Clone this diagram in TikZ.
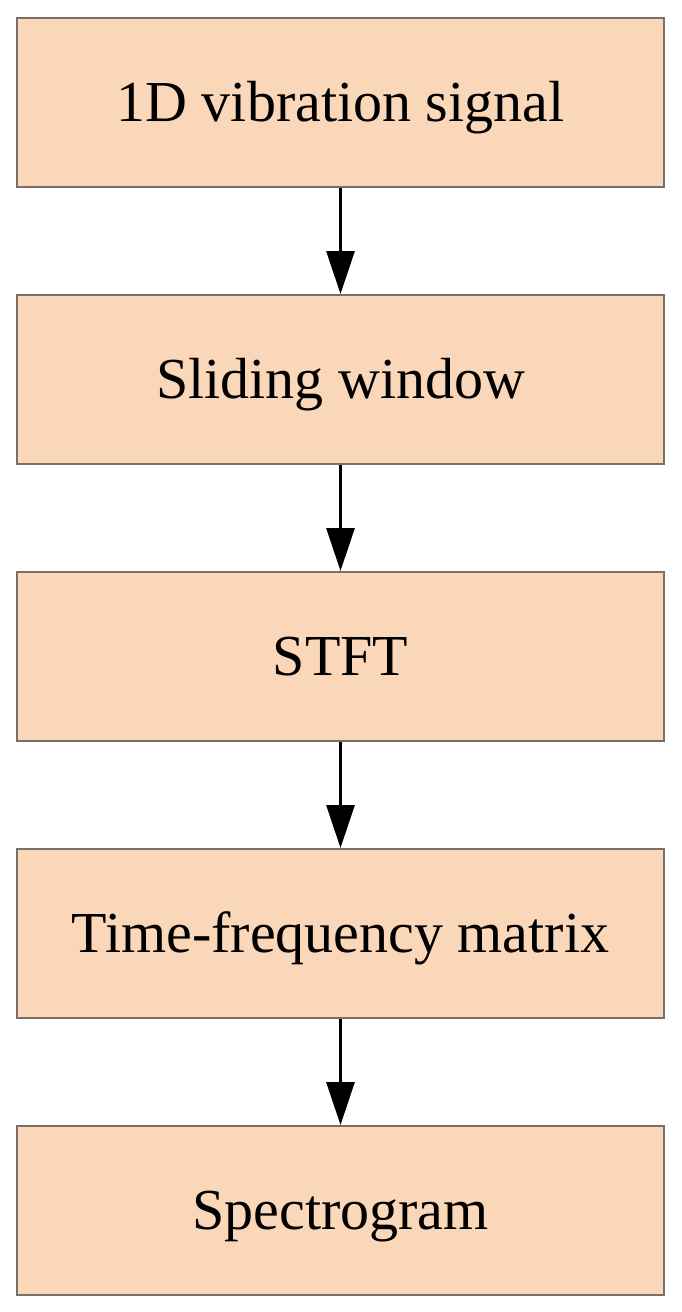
\documentclass[tikz,border=0pt]{standalone}
\usepackage{fontspec}
\setmainfont{Liberation Serif}
\usetikzlibrary{arrows.meta}
\definecolor{boxfill}{HTML}{FAD7B9}
\definecolor{boxline}{HTML}{7A6E68}
\tikzset{
  stagebox/.style={draw=boxline, line width=2pt, fill=boxfill, minimum width=647pt, minimum height=169pt, inner sep=0pt, text height=40pt, text depth=2pt, font=\fontsize{58}{66}\selectfont},
  flowarrow/.style={line width=3pt, -{Triangle[width=28pt,length=43pt]}}
}
\begin{document}
\begin{tikzpicture}[x=1pt,y=-1pt]
\useasboundingbox (0,0) rectangle (682,1312);
\node[stagebox] (b1) at (340.5,102.5) {1D vibration signal};
\node[stagebox] (b2) at (340.5,379.5) {Sliding window};
\node[stagebox] (b3) at (340.5,656.5) {STFT};
\node[stagebox] (b4) at (340.5,933.5) {Time-frequency matrix};
\node[stagebox] (b5) at (340.5,1210.5) {Spectrogram};
\draw[flowarrow] (b1.south) -- (b2.north);
\draw[flowarrow] (b2.south) -- (b3.north);
\draw[flowarrow] (b3.south) -- (b4.north);
\draw[flowarrow] (b4.south) -- (b5.north);
\end{tikzpicture}
\end{document}
